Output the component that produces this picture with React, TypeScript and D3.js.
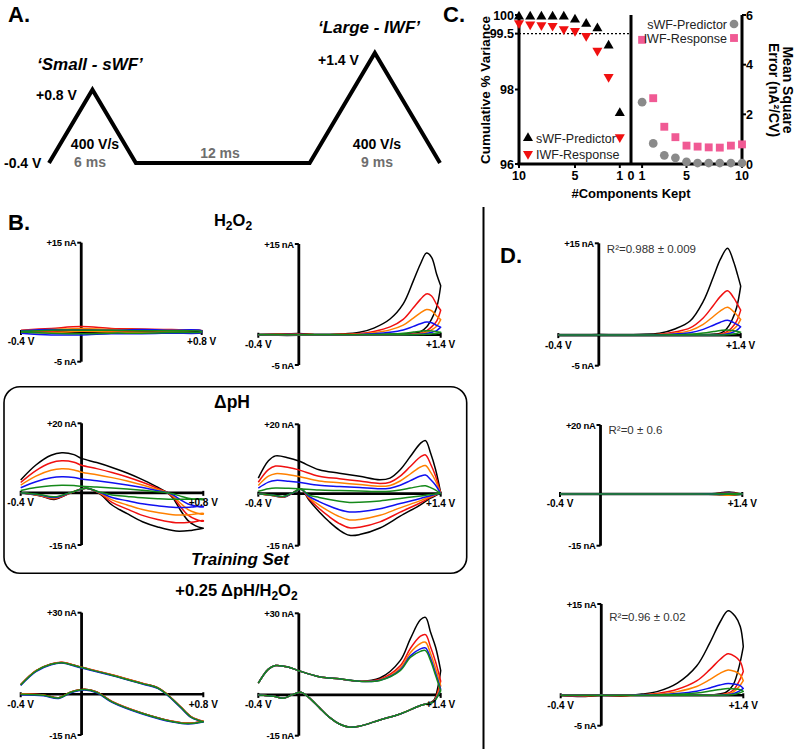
import React from "react";
import * as d3 from "d3";

const FONT = "'Liberation Sans', Arial, Helvetica, sans-serif";
const CV_COLORS = ["#000000", "#f01010", "#ff8000", "#1010f0", "#15891a"];

// ---------- Panel A: waveform ----------
const waveTimesMs = [0, 3, 6, 18, 22.5, 27];
const waveVolts = [-0.4, 0.8, -0.4, -0.4, 1.4, -0.4];

// ---------- Panel C: PCA ----------
const componentsKept = [1, 2, 3, 4, 5, 6, 7, 8, 9, 10];
const swfVariance = [97.37, 99.18, 99.64, 99.76, 99.88, 99.96, 99.96, 99.96, 99.96, 99.96];
const lwfVariance = [96.72, 98.34, 99.04, 99.44, 99.57, 99.62, 99.71, 99.73, 99.75, 99.78];
const swfMSE = [2.49, 0.83, 0.35, 0.25, 0.09, 0.04, 0.04, 0.04, 0.04, 0.04];
const lwfMSE = [5.0, 2.65, 1.5, 1.08, 0.74, 0.7, 0.67, 0.66, 0.74, 0.79];
const varianceTicks = [96, 98, 99.5, 100];
const mseTicks = [0, 2, 4, 6];
const compTicks = [10, 5, 1];
const compTicksRight = [1, 5, 10];

// ---------- Panel B: H2O2, small waveform (near-zero) ----------
const bSmallV = [-0.4, -0.2, 0, 0.2, 0.4, 0.6, 0.8];
const bSmallFwd = [
  [0.2, 0.3, 0.4, 0.3, 0.3, 0.2, 0.1],
  [0.3, 0.6, 0.9, 0.6, 0.5, 0.4, 0.2],
  [0.2, 0.4, 0.6, 0.4, 0.4, 0.3, 0.2],
  [0.2, 0.4, 0.3, 0.3, 0.4, 0.3, 0.2],
  [0.1, 0.3, 0.3, 0.3, 0.2, 0.2, 0.1],
];
const bSmallRev = [
  [0, -0.1, -0.2, -0.2, -0.1, -0.1, 0],
  [0, 0.1, 0.3, 0.1, 0.0, 0.0, 0],
  [0, -0.1, 0.1, 0, -0.1, 0, 0],
  [-0.2, -0.5, -0.5, -0.3, -0.3, -0.2, -0.1],
  [0, -0.2, -0.3, -0.2, -0.2, -0.1, 0],
];

// ---------- Panel B: H2O2, large waveform ----------
const bLargeFwdV = [-0.4, -0.2, 0, 0.2, 0.4, 0.6, 0.74, 0.9, 1.03, 1.13, 1.2, 1.26, 1.31, 1.36, 1.4];
const bLargeFwdI = [0, 0.1, 0.2, 0, 0.1, 0.4, 1.1, 2.6, 5.1, 8.9, 11.7, 13.5, 12.8, 10.0, 8.1];
const bLargeRevV = [1.4, 1.36, 1.31, 1.26, 1.2, 1.1, 0.8, 0.4, 0, -0.2, -0.4];
const bLargeRevI = [8.1, 4.5, 2.6, 1.3, 0.5, 0.2, 0, 0, -0.1, -0.1, 0];
const bLargeAmp = [1, 0.5, 0.31, 0.155, 0.05];

// ---------- ΔpH, small waveform ----------
const phSmallFwdV = [-0.4, -0.3, -0.2, -0.13, -0.05, 0, 0.1, 0.2, 0.3, 0.4, 0.5, 0.56, 0.6, 0.65, 0.7, 0.75, 0.8];
const phSmallFwdI = [3.7, 8.0, 10.8, 11.5, 11.0, 9.9, 8.7, 7.3, 5.7, 3.8, 1.6, 0.2, -1.5, -5.0, -8.0, -9.5, -10.2];
const phSmallRevV = [0.8, 0.72, 0.62, 0.5, 0.4, 0.3, 0.2, 0.12, 0.03, -0.07, -0.18, -0.27, -0.4];
const phSmallRevScaled = [-10.2, -10.8, -11.0, -9.8, -8.3, -6.0, -3.5, -0.6, 0, -0.1, -0.9, -0.4, 0];
const phSmallRevCommon = [0, 0, 0, 0, 0, 0, 0, 0.3, 1.3, 0.1, -1.0, -0.5, 0];
const phSmallFwdAmp = [1, 0.8, 0.6, 0.4, 0.19];
const phSmallRevAmp = [1, 0.78, 0.58, 0.38, 0.17];

// ---------- ΔpH, large waveform ----------
const phLargeFwdV = [-0.4, -0.3, -0.23, -0.1, 0, 0.2, 0.4, 0.6, 0.8, 0.9, 1.0, 1.1, 1.2, 1.25, 1.3, 1.35, 1.4];
const phLargeFwdI = [4.5, 9.5, 10.9, 10.3, 9.4, 6.9, 5.9, 5.0, 4.0, 4.5, 6.9, 10.7, 14.5, 15.3, 11.7, 6.9, 0.2];
const phLargeRevV = [1.4, 1.3, 1.2, 1.0, 0.8, 0.6, 0.5, 0.4, 0.3, 0.2, 0.1, 0.02, -0.07, -0.15, -0.25, -0.4];
const phLargeRevScaled = [0.2, -1.3, -3.2, -6.5, -9.9, -11.8, -12.0, -10.5, -8.1, -5.2, -1.8, 0.2, -0.2, -0.3, -0.2, 0];
const phLargeRevCommon = [0, 0, 0, 0, 0, 0, 0, 0, 0, 0, 0, 1.2, 0.2, -0.7, -0.4, 0];
const phLargeFwdAmp = [1, 0.73, 0.53, 0.35, 0.15];
const phLargeRevAmp = [1, 0.82, 0.63, 0.44, 0.21];

// ---------- +0.25 ΔpH / H2O2, small waveform ----------
const mixSmallFwdV = [-0.4, -0.3, -0.2, -0.13, 0, 0.2, 0.4, 0.5, 0.56, 0.65, 0.72, 0.8];
const mixSmallFwdI = [3.4, 8.5, 11.0, 11.6, 9.8, 7.0, 3.9, 2.3, 0.0, -4.7, -8.4, -10.1];
const mixSmallRevV = [0.8, 0.7, 0.6, 0.4, 0.2, 0.1, 0.02, -0.07, -0.15, -0.25, -0.4];
const mixSmallRevI = [-10.1, -10.8, -10.1, -7.1, -2.8, 0.7, 1.7, 0.7, -1.4, -0.4, 0];
const mixSmallShift = [0.1, 0.15, 0.05, -0.15, 0];

// ---------- +0.25 ΔpH / H2O2, large waveform ----------
const mixLargeFwdV = [-0.4, -0.3, -0.23, -0.1, 0, 0.2, 0.4, 0.6, 0.8, 1.0, 1.1, 1.2, 1.25, 1.3, 1.35, 1.4];
const mixLargeFwdBase = [4.3, 9.5, 10.8, 10.2, 8.9, 6.7, 5.9, 5.0, 5.3, 8.9, 13.8, 16.0, 16.3, 12.6, 7.1, 1.5];
const mixLargeFwdExtra = [0, 0, 0, 0, 0, 0, 0, 0, 0.9, 3.7, 6.8, 11.6, 12.2, 10.4, 10.4, 7.4];
const mixLargeRevV = [1.4, 1.37, 1.33, 1.2, 1.0, 0.8, 0.6, 0.5, 0.4, 0.3, 0.2, 0.1, 0.02, -0.07, -0.15, -0.25, -0.4];
const mixLargeRevBase = [1.5, -0.5, -2.6, -3.9, -7.0, -9.2, -11.5, -11.9, -10.7, -8.2, -4.6, -1.0, 1.0, 0.0, -1.2, -0.5, 0];
const mixLargeRevExtra = [7.4, 3.0, 0.5, 0, 0, 0, 0, 0, 0, 0, 0, 0, 0, 0, 0, 0, 0];
const mixLargeAmp = [1, 0.48, 0.25, 0.08, 0];

// ---------- D: predictions ----------
const d1FwdV = [-0.4, -0.2, 0, 0.2, 0.4, 0.6, 0.75, 0.9, 1.03, 1.13, 1.2, 1.27, 1.33, 1.37, 1.4];
const d1FwdI = [0, 0, 0.1, 0, 0.1, 0.3, 1.0, 2.3, 5.5, 9.5, 12.4, 14.2, 12.0, 9.8, 8.0];
const d1RevV = [1.4, 1.36, 1.31, 1.26, 1.2, 1.1, 0.8, 0.4, 0, -0.4];
const d1RevI = [8.0, 4.5, 2.3, 1.0, 0.3, 0.1, 0, 0, 0, 0];
const d1Amp = [1, 0.51, 0.32, 0.17, 0.06];

const d2FwdV = [-0.4, 0, 0.4, 0.8, 1.1, 1.2, 1.27, 1.34, 1.4];
const d2FwdI = [0, 0, 0, 0, 0.1, 0.4, 0.6, 0.3, 0];
const d2RevV = [1.4, 1.3, 1.2, 1.0, 0.6, 0, -0.4];
const d2RevI = [0, -0.3, -0.2, 0, 0, 0, 0];
const d2Amp = [1, 0.4, -0.6, 0.3, 0.2];

const d3FwdV = [-0.4, -0.2, 0, 0.2, 0.4, 0.55, 0.75, 0.94, 1.07, 1.17, 1.25, 1.32, 1.37, 1.4];
const d3FwdI = [0, -0.2, 0, -0.1, 0.2, 0.6, 2.0, 4.8, 8.6, 12.0, 13.9, 13.0, 11.3, 8.0];
const d3RevV = [1.4, 1.36, 1.3, 1.23, 1.1, 0.8, 0.4, 0, -0.4];
const d3RevI = [8.0, 4.8, 1.7, 0.5, 0.1, 0, 0, 0, 0];
const d3Amp = [1, 0.49, 0.3, 0.14, 0.08];

const rSquaredLabels = ["R²=0.988 ± 0.009", "R²=0 ± 0.6", "R²=0.96 ± 0.02"];

type Pt = [number, number];
type Series = { color: string; pts: Pt[] };

function build(o: {
  fwdV: number[]; fwdScaled: number[]; fwdAmp: number[]; fwdBase?: number[];
  revV: number[]; revScaled: number[]; revAmp: number[]; revBase?: number[];
  shift?: number[];
}): Series[] {
  return CV_COLORS.map((color, c) => {
    const s = o.shift ? o.shift[c] : 0;
    const pts: Pt[] = [];
    o.fwdV.forEach((v, i) => pts.push([v, (o.fwdBase ? o.fwdBase[i] : 0) + o.fwdAmp[c] * o.fwdScaled[i] + s]));
    o.revV.forEach((v, i) => pts.push([v, (o.revBase ? o.revBase[i] : 0) + o.revAmp[c] * o.revScaled[i] + s]));
    return { color, pts };
  });
}

function buildExplicit(v: number[], fwd: number[][], rev: number[][]): Series[] {
  return CV_COLORS.map((color, c) => {
    const pts: Pt[] = [];
    v.forEach((vv, i) => pts.push([vv, fwd[c][i]]));
    for (let i = v.length - 1; i >= 0; i--) pts.push([v[i], rev[c][i]]);
    return { color, pts };
  });
}

type CVCfg = {
  x0: number; x1: number; vmax: number; yTop: number; yBot: number;
  iTop: number; iBot: number; series: Series[]; r2?: string; r2y?: number;
};

function CVPlot({ cfg }: { cfg: CVCfg }) {
  const xs = d3.scaleLinear().domain([-0.4, cfg.vmax]).range([cfg.x0, cfg.x1]);
  const ys = d3.scaleLinear().domain([cfg.iBot, cfg.iTop]).range([cfg.yBot, cfg.yTop]);
  const line = d3
    .line<Pt>()
    .x((d) => xs(d[0]))
    .y((d) => ys(d[1]))
    .curve(d3.curveCatmullRom.alpha(0.5));
  const ax = xs(0);
  const ay = ys(0);
  return (
    <g>
      <line x1={xs(-0.4)} x2={xs(cfg.vmax)} y1={ay} y2={ay} stroke="#000" strokeWidth={2.6} />
      <line x1={xs(-0.4)} x2={xs(-0.4)} y1={ay - 2} y2={ay + 3} stroke="#000" strokeWidth={2} />
      <line x1={xs(cfg.vmax)} x2={xs(cfg.vmax)} y1={ay - 2} y2={ay + 3} stroke="#000" strokeWidth={2} />
      <line x1={ax} x2={ax} y1={ys(cfg.iTop)} y2={ys(cfg.iBot)} stroke="#000" strokeWidth={2.8} />
      <line x1={ax - 4} x2={ax} y1={ys(cfg.iTop)} y2={ys(cfg.iTop)} stroke="#000" strokeWidth={2} />
      <line x1={ax - 4} x2={ax} y1={ys(cfg.iBot)} y2={ys(cfg.iBot)} stroke="#000" strokeWidth={2} />
      {cfg.series.map((s, i) => (
        <path key={i} d={line(s.pts) || ""} fill="none" stroke={s.color} strokeWidth={1.5} strokeLinejoin="round" />
      ))}
      <text x={ax - 5} y={ys(cfg.iTop) + 3.5} textAnchor="end" fontSize={9.5} fontWeight="bold" letterSpacing={-0.3}>
        {`+${cfg.iTop} nA`}
      </text>
      <text x={ax - 5} y={ys(cfg.iBot) + 3.5} textAnchor="end" fontSize={9.5} fontWeight="bold" letterSpacing={-0.3}>
        {`${cfg.iBot} nA`}
      </text>
      <text x={xs(-0.4)} y={ay + 13.5} textAnchor="middle" fontSize={10} fontWeight="bold">
        -0.4 V
      </text>
      <text x={xs(cfg.vmax)} y={ay + 13.5} textAnchor="middle" fontSize={10} fontWeight="bold">
        {`+${cfg.vmax} V`}
      </text>
      {cfg.r2 && (
        <text x={ax + 8} y={cfg.r2y} fontSize={11.5} fill="#333">
          {cfg.r2}
        </text>
      )}
    </g>
  );
}

function PanelA() {
  const tS = d3.scaleLinear().domain([0, 27]).range([49, 440]);
  const vS = d3.scaleLinear().domain([-0.4, 1.4]).range([163, 53]);
  const pts: Pt[] = waveTimesMs.map((t, i) => [tS(t), vS(waveVolts[i])]);
  const bold = { fontWeight: "bold" as const };
  return (
    <g>
      <path d={d3.line()(pts) || ""} fill="none" stroke="#000" strokeWidth={4} strokeLinejoin="miter" />
      <text x={8} y={22} fontSize={22} {...bold}>A.</text>
      <text x={37} y={70} fontSize={17} fontWeight="bold" fontStyle="italic">‘Small - sWF’</text>
      <text x={318} y={33} fontSize={17} fontWeight="bold" fontStyle="italic">‘Large - IWF’</text>
      <text x={36} y={100} fontSize={14} {...bold}>+0.8 V</text>
      <text x={318} y={65} fontSize={14} {...bold}>+1.4 V</text>
      <text x={4} y={168} fontSize={14} {...bold}>-0.4 V</text>
      <text x={95} y={149} fontSize={14} textAnchor="middle" {...bold}>400 V/s</text>
      <text x={90} y={167} fontSize={14} textAnchor="middle" fill="#6e6e6e" {...bold}>6 ms</text>
      <text x={220} y={158} fontSize={14} textAnchor="middle" fill="#6e6e6e" {...bold}>12 ms</text>
      <text x={377} y={149} fontSize={14} textAnchor="middle" {...bold}>400 V/s</text>
      <text x={377} y={167} fontSize={14} textAnchor="middle" fill="#6e6e6e" {...bold}>9 ms</text>
    </g>
  );
}

function PanelC() {
  const lx = d3.scaleLinear().domain([10, 0]).range([519, 631]);
  const rx = d3.scaleLinear().domain([0, 10]).range([631, 742]);
  const ly = d3.scaleLinear().domain([96, 100]).range([164, 15]);
  const ry = d3.scaleLinear().domain([0, 6]).range([164, 15]);
  const tri = d3.symbol(d3.symbolTriangle, 44)() || "";
  const circ = d3.symbol(d3.symbolCircle, 60)() || "";
  const sq = d3.symbol(d3.symbolSquare, 62)() || "";
  const pink = "#f05a94";
  const gray = "#8a8a8a";
  return (
    <g>
      <text x={443} y={22} fontSize={22} fontWeight="bold">C.</text>
      <line x1={lx(10)} x2={lx(0)} y1={ly(99.5)} y2={ly(99.5)} stroke="#000" strokeWidth={1.2} strokeDasharray="2,2" />
      <line x1={lx(10)} x2={lx(10)} y1={ly(100)} y2={ly(96)} stroke="#000" strokeWidth={3} />
      <line x1={lx(0)} x2={lx(0)} y1={ly(100)} y2={ly(96)} stroke="#000" strokeWidth={3} />
      <line x1={rx(10)} x2={rx(10)} y1={ry(6)} y2={ry(0)} stroke="#000" strokeWidth={3} />
      <line x1={lx(10) - 1.5} x2={rx(10) + 1.5} y1={ly(96)} y2={ly(96)} stroke="#000" strokeWidth={3} />
      {varianceTicks.map((t) => (
        <g key={"lv" + t}>
          <line x1={lx(10) - 4} x2={lx(10)} y1={ly(t)} y2={ly(t)} stroke="#000" strokeWidth={2} />
          <text x={lx(10) - 5} y={ly(t) + 4.5} textAnchor="end" fontSize={12.5} fontWeight="bold">{t}</text>
        </g>
      ))}
      {mseTicks.map((t) => (
        <g key={"rm" + t}>
          <line x1={rx(10)} x2={rx(10) + 4} y1={ry(t)} y2={ry(t)} stroke="#000" strokeWidth={2} />
          <text x={rx(10) + 4} y={ry(t) + 4.5} fontSize={12.5} fontWeight="bold">{t}</text>
        </g>
      ))}
      {compTicks.map((t) => (
        <g key={"lc" + t}>
          <line x1={lx(t)} x2={lx(t)} y1={ly(96)} y2={ly(96) + 4} stroke="#000" strokeWidth={2} />
          <text x={lx(t)} y={180} textAnchor="middle" fontSize={12.5} fontWeight="bold">{t}</text>
        </g>
      ))}
      <text x={lx(0)} y={180} textAnchor="middle" fontSize={12.5} fontWeight="bold">0</text>
      {compTicksRight.map((t) => (
        <g key={"rc" + t}>
          <line x1={rx(t)} x2={rx(t)} y1={ry(0)} y2={ry(0) + 4} stroke="#000" strokeWidth={2} />
          <text x={rx(t)} y={180} textAnchor="middle" fontSize={12.5} fontWeight="bold">{t}</text>
        </g>
      ))}
      <text transform={`translate(485,90) rotate(-90)`} textAnchor="middle" dy="0.35em" fontSize={13.5} fontWeight="bold">
        Cumulative % Variance
      </text>
      <text transform={`translate(788,90) rotate(90)`} textAnchor="middle" dy="0.35em" fontSize={14} fontWeight="bold">
        Mean Square
      </text>
      <text transform={`translate(774,90) rotate(90)`} textAnchor="middle" dy="0.35em" fontSize={14} fontWeight="bold">
        Error (nA²/CV)
      </text>
      <text x={631} y={198} textAnchor="middle" fontSize={13} fontWeight="bold">#Components Kept</text>
      {componentsKept.map((n, i) => (
        <g key={"d" + n}>
          <path d={tri} transform={`translate(${lx(n)},${ly(swfVariance[i])})`} fill="#000" />
          <path d={tri} transform={`translate(${lx(n)},${ly(lwfVariance[i])}) rotate(180)`} fill="#f01010" />
          <path d={circ} transform={`translate(${rx(n)},${ry(swfMSE[i])})`} fill={gray} />
          <path d={sq} transform={`translate(${rx(n)},${ry(lwfMSE[i])})`} fill={pink} />
        </g>
      ))}
      <path d={tri} transform="translate(528,138)" fill="#000" />
      <text x={536} y={142.5} fontSize={12.5} fill="#222">sWF-Predictor</text>
      <path d={tri} transform="translate(528,154) rotate(180)" fill="#f01010" />
      <text x={536} y={158.5} fontSize={12.5} fill="#222">IWF-Response</text>
      <text x={727} y={28.5} textAnchor="end" fontSize={12.5} fill="#222">sWF-Predictor</text>
      <path d={circ} transform="translate(734,24)" fill={gray} />
      <text x={727} y={42.5} textAnchor="end" fontSize={12.5} fill="#222">IWF-Response</text>
      <path d={sq} transform="translate(734,38)" fill={pink} />
    </g>
  );
}

const panelsB: CVCfg[] = [
  { x0: 21, x1: 201.7, vmax: 0.8, yTop: 242.7, yBot: 361.7, iTop: 15, iBot: -5, series: buildExplicit(bSmallV, bSmallFwd, bSmallRev) },
  {
    x0: 258.3, x1: 440.7, vmax: 1.4, yTop: 244, yBot: 365, iTop: 15, iBot: -5,
    series: build({ fwdV: bLargeFwdV, fwdScaled: bLargeFwdI, fwdAmp: bLargeAmp, revV: bLargeRevV, revScaled: bLargeRevI, revAmp: bLargeAmp }),
  },
  {
    x0: 20.7, x1: 203.3, vmax: 0.8, yTop: 423.3, yBot: 545, iTop: 20, iBot: -15,
    series: build({ fwdV: phSmallFwdV, fwdScaled: phSmallFwdI, fwdAmp: phSmallFwdAmp, revV: phSmallRevV, revScaled: phSmallRevScaled, revBase: phSmallRevCommon, revAmp: phSmallRevAmp }),
  },
  {
    x0: 258.3, x1: 440.7, vmax: 1.4, yTop: 424.3, yBot: 545.7, iTop: 20, iBot: -15,
    series: build({ fwdV: phLargeFwdV, fwdScaled: phLargeFwdI, fwdAmp: phLargeFwdAmp, revV: phLargeRevV, revScaled: phLargeRevScaled, revBase: phLargeRevCommon, revAmp: phLargeRevAmp }),
  },
  {
    x0: 20.7, x1: 203.3, vmax: 0.8, yTop: 612.7, yBot: 735, iTop: 30, iBot: -15,
    series: build({ fwdV: mixSmallFwdV, fwdScaled: mixSmallFwdI, fwdAmp: [1, 1, 1, 1, 1], revV: mixSmallRevV, revScaled: mixSmallRevI, revAmp: [1, 1, 1, 1, 1], shift: mixSmallShift }),
  },
  {
    x0: 258.3, x1: 440.7, vmax: 1.4, yTop: 613.3, yBot: 735.7, iTop: 30, iBot: -15,
    series: build({ fwdV: mixLargeFwdV, fwdBase: mixLargeFwdBase, fwdScaled: mixLargeFwdExtra, fwdAmp: mixLargeAmp, revV: mixLargeRevV, revBase: mixLargeRevBase, revScaled: mixLargeRevExtra, revAmp: mixLargeAmp }),
  },
];

const panelsD: CVCfg[] = [
  {
    x0: 558.3, x1: 740.7, vmax: 1.4, yTop: 243.3, yBot: 365.7, iTop: 15, iBot: -5, r2: rSquaredLabels[0], r2y: 253,
    series: build({ fwdV: d1FwdV, fwdScaled: d1FwdI, fwdAmp: d1Amp, revV: d1RevV, revScaled: d1RevI, revAmp: d1Amp }),
  },
  {
    x0: 560, x1: 742.3, vmax: 1.4, yTop: 425, yBot: 545.7, iTop: 20, iBot: -15, r2: rSquaredLabels[1], r2y: 433.5,
    series: build({ fwdV: d2FwdV, fwdScaled: d2FwdI, fwdAmp: d2Amp, revV: d2RevV, revScaled: d2RevI, revAmp: d2Amp }),
  },
  {
    x0: 560.7, x1: 743.3, vmax: 1.4, yTop: 604, yBot: 725.7, iTop: 15, iBot: -5, r2: rSquaredLabels[2], r2y: 620.5,
    series: build({ fwdV: d3FwdV, fwdScaled: d3FwdI, fwdAmp: d3Amp, revV: d3RevV, revScaled: d3RevI, revAmp: d3Amp }),
  },
];

export default function App() {
  return (
    <svg
      width={800}
      height={749}
      viewBox="0 0 800 749"
      style={{ position: "absolute", left: 0, top: 0, display: "block", background: "#fff" }}
      fontFamily={FONT}
    >
      <rect width={800} height={749} fill="#fff" />
      <PanelA />
      <PanelC />
      <line x1={483.5} x2={483.5} y1={207} y2={749} stroke="#000" strokeWidth={2} />
      <text x={8} y={230} fontSize={22} fontWeight="bold">B.</text>
      <text x={233} y={226} textAnchor="middle" fontSize={16.5} fontWeight="bold">
        H<tspan dy={4} fontSize={12}>2</tspan>
        <tspan dy={-4}>O</tspan>
        <tspan dy={4} fontSize={12}>2</tspan>
      </text>
      <rect x={4} y={386.7} width={462.7} height={186.6} rx={16} ry={16} fill="none" stroke="#000" strokeWidth={1.6} />
      <text x={232} y={408} textAnchor="middle" fontSize={17.5} fontWeight="bold">ΔpH</text>
      <text x={240} y={565} textAnchor="middle" fontSize={17} fontWeight="bold" fontStyle="italic">Training Set</text>
      <text x={236.5} y={596} textAnchor="middle" fontSize={16.5} fontWeight="bold">
        +0.25 ΔpH/H<tspan dy={4} fontSize={12}>2</tspan>
        <tspan dy={-4}>O</tspan>
        <tspan dy={4} fontSize={12}>2</tspan>
      </text>
      {panelsB.map((p, i) => (
        <CVPlot key={"b" + i} cfg={p} />
      ))}
      <text x={500} y={263} fontSize={22} fontWeight="bold">D.</text>
      {panelsD.map((p, i) => (
        <CVPlot key={"d" + i} cfg={p} />
      ))}
    </svg>
  );
}
